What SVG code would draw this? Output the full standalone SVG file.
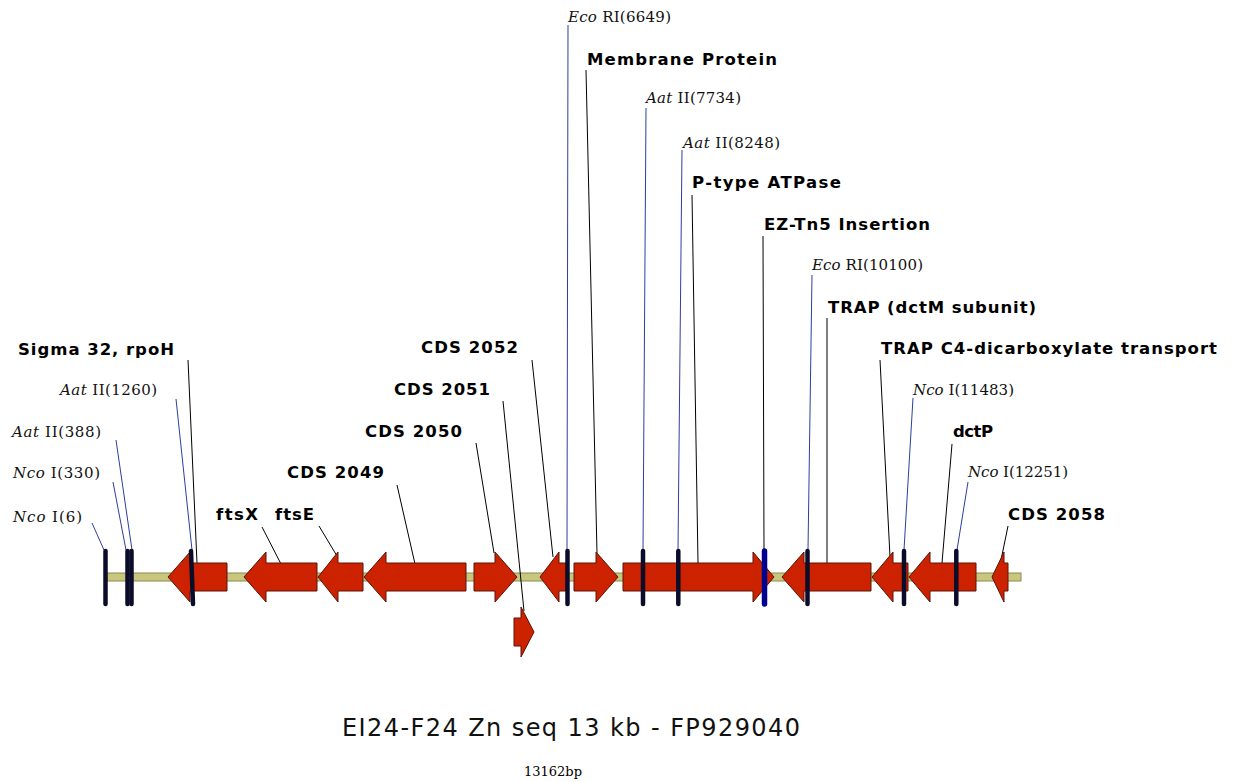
<svg xmlns="http://www.w3.org/2000/svg" width="1237" height="782" viewBox="0 0 1237 782">
<style>
.gene{fill:#cc2200;stroke:#5a1408;stroke-width:1}
.site{stroke:#0b0b2a;stroke-width:4.5;stroke-linecap:round}
.tn{stroke:#00008e;stroke-width:5.5;stroke-linecap:round}
.lbl{font-family:"DejaVu Sans","Liberation Sans",sans-serif;font-weight:bold;font-size:16.5px;fill:#000}
.enz{font-family:"DejaVu Serif","Liberation Serif",serif;font-size:15px;fill:#111}
.enz tspan{font-style:italic}
.lead{stroke:#000;stroke-width:1;fill:none}
.slead{stroke:#2b3f9e;stroke-width:1;fill:none}
</style>
<rect width="1237" height="782" fill="#fff"/>
<g id="backbone"><rect x="107" y="573" width="914" height="8" fill="#c9c77d" stroke="#8c8a52" stroke-width="1"/></g>
<g id="connectors">
<line class="slead" x1="92" y1="523" x2="104" y2="550"/>
<line class="slead" x1="113" y1="482" x2="126" y2="550"/>
<line class="slead" x1="116" y1="440" x2="132" y2="550"/>
<line class="slead" x1="176" y1="399" x2="192" y2="550"/>
<line class="lead" x1="188" y1="360" x2="197" y2="563"/>
<line class="lead" x1="262" y1="527" x2="281" y2="564"/>
<line class="lead" x1="319" y1="526" x2="337" y2="556"/>
<line class="lead" x1="397" y1="485" x2="415" y2="564"/>
<line class="lead" x1="476" y1="443" x2="494" y2="553"/>
<line class="lead" x1="503" y1="401" x2="524" y2="611"/>
<line class="lead" x1="532" y1="360" x2="553" y2="557"/>
<line class="slead" x1="568" y1="25" x2="567" y2="550"/>
<line class="lead" x1="586" y1="70" x2="597" y2="553"/>
<line class="slead" x1="646" y1="108" x2="643" y2="550"/>
<line class="slead" x1="682" y1="150" x2="678" y2="550"/>
<line class="lead" x1="692" y1="195" x2="698" y2="563"/>
<line class="lead" x1="763" y1="236" x2="764" y2="550"/>
<line class="slead" x1="812" y1="275" x2="808" y2="550"/>
<line class="lead" x1="827" y1="318" x2="827" y2="563"/>
<line class="lead" x1="880" y1="360" x2="890" y2="557"/>
<line class="slead" x1="913" y1="398" x2="904" y2="550"/>
<line class="lead" x1="952" y1="444" x2="942" y2="563"/>
<line class="slead" x1="968" y1="482" x2="957" y2="550"/>
<line class="lead" x1="1008" y1="526" x2="1001" y2="560"/>
</g>
<g id="rpoH"><polygon class="gene" points="168,577 190,552 190,563 227,563 227,591 190,591 190,602"/><text class="lbl" x="18" y="355" textLength="156" lengthAdjust="spacing">Sigma 32, rpoH</text></g>
<g id="ftsX"><polygon class="gene" points="244,577 266,552 266,563 317,563 317,591 266,591 266,602"/><text class="lbl" x="216" y="520" textLength="42" lengthAdjust="spacing">ftsX</text></g>
<g id="ftsE"><polygon class="gene" points="318,577 338,552 338,563 363,563 363,591 338,591 338,602"/><text class="lbl" x="275" y="520" textLength="39" lengthAdjust="spacing">ftsE</text></g>
<g id="cds2049"><polygon class="gene" points="364,577 386,552 386,563 466,563 466,591 386,591 386,602"/><text class="lbl" x="287" y="478" textLength="97" lengthAdjust="spacing">CDS 2049</text></g>
<g id="cds2050"><polygon class="gene" points="474,563 495,563 495,552 517,577 495,602 495,591 474,591"/><text class="lbl" x="365" y="437" textLength="97" lengthAdjust="spacing">CDS 2050</text></g>
<g id="cds2051"><polygon class="gene" points="514,618 521,618 521,607 534,632 521,657 521,646 514,646"/><text class="lbl" x="394" y="395" textLength="96" lengthAdjust="spacing">CDS 2051</text></g>
<g id="cds2052"><polygon class="gene" points="540,577 559,552 559,563 566,563 566,591 559,591 559,602"/><text class="lbl" x="421" y="353" textLength="97" lengthAdjust="spacing">CDS 2052</text></g>
<g id="membrane"><polygon class="gene" points="574,563 596,563 596,552 618,577 596,602 596,591 574,591"/><text class="lbl" x="587" y="65" textLength="190" lengthAdjust="spacing">Membrane Protein</text></g>
<g id="ptype"><polygon class="gene" points="623,563 753,563 753,552 774,577 753,602 753,591 623,591"/><text class="lbl" x="692" y="188" textLength="149" lengthAdjust="spacing">P-type ATPase</text></g>
<g id="dctM"><polygon class="gene" points="782,577 804,552 804,563 871,563 871,591 804,591 804,602"/><text class="lbl" x="828" y="313" textLength="208" lengthAdjust="spacing">TRAP (dctM subunit)</text></g>
<g id="trapC4"><polygon class="gene" points="872,577 893,552 893,563 908,563 908,591 893,591 893,602"/><text class="lbl" x="881" y="354" textLength="336" lengthAdjust="spacing">TRAP C4-dicarboxylate transport</text></g>
<g id="dctP"><polygon class="gene" points="909,577 930,552 930,563 976,563 976,591 930,591 930,602"/><text class="lbl" x="953" y="437" textLength="40" lengthAdjust="spacing">dctP</text></g>
<g id="cds2058"><polygon class="gene" points="992,577 1004,552 1004,563 1008,563 1008,591 1004,591 1004,602"/><text class="lbl" x="1008" y="520" textLength="97" lengthAdjust="spacing">CDS 2058</text></g>
<g id="nco6"><line class="site" x1="105.5" y1="551" x2="105.5" y2="604"/><text class="enz" x="13" y="522" textLength="69" lengthAdjust="spacing"><tspan>Nco</tspan> I(6)</text></g>
<g id="nco330"><line class="site" x1="127.5" y1="551" x2="127.5" y2="604"/><text class="enz" x="13" y="478" textLength="87" lengthAdjust="spacing"><tspan>Nco</tspan> I(330)</text></g>
<g id="aat388"><line class="site" x1="131.5" y1="551" x2="131.5" y2="604"/><text class="enz" x="12" y="437" textLength="89" lengthAdjust="spacing"><tspan>Aat</tspan> II(388)</text></g>
<g id="aat1260"><line class="site" x1="191" y1="551" x2="193" y2="604"/><text class="enz" x="60" y="395" textLength="97" lengthAdjust="spacing"><tspan>Aat</tspan> II(1260)</text></g>
<g id="eco6649"><line class="site" x1="567.5" y1="551" x2="567.5" y2="604"/><text class="enz" x="568" y="22" textLength="103" lengthAdjust="spacing"><tspan>Eco</tspan> RI(6649)</text></g>
<g id="aat7734"><line class="site" x1="643" y1="551" x2="643" y2="604"/><text class="enz" x="646" y="103" textLength="95" lengthAdjust="spacing"><tspan>Aat</tspan> II(7734)</text></g>
<g id="aat8248"><line class="site" x1="678.3" y1="551" x2="678.3" y2="604"/><text class="enz" x="683" y="148" textLength="97" lengthAdjust="spacing"><tspan>Aat</tspan> II(8248)</text></g>
<g id="eztn5"><line class="tn" x1="764.5" y1="551" x2="764.5" y2="604"/><text class="lbl" x="764" y="230" textLength="166" lengthAdjust="spacing">EZ-Tn5 Insertion</text></g>
<g id="eco10100"><line class="site" x1="807.5" y1="551" x2="807.5" y2="604"/><text class="enz" x="812" y="270" textLength="111" lengthAdjust="spacing"><tspan>Eco</tspan> RI(10100)</text></g>
<g id="nco11483"><line class="site" x1="904" y1="551" x2="904" y2="604"/><text class="enz" x="913" y="395" textLength="101" lengthAdjust="spacing"><tspan>Nco</tspan> I(11483)</text></g>
<g id="nco12251"><line class="site" x1="956.3" y1="551" x2="956.3" y2="604"/><text class="enz" x="968" y="477" textLength="100" lengthAdjust="spacing"><tspan>Nco</tspan> I(12251)</text></g>
<g id="title"><text x="342" y="736" font-family="'DejaVu Sans','Liberation Sans',sans-serif" font-size="24" fill="#111" textLength="458" lengthAdjust="spacing">EI24-F24 Zn seq 13 kb - FP929040</text><text x="524" y="776" font-family="'DejaVu Serif','Liberation Serif',serif" font-size="13" fill="#000" textLength="58" lengthAdjust="spacing">13162bp</text></g>
</svg>
